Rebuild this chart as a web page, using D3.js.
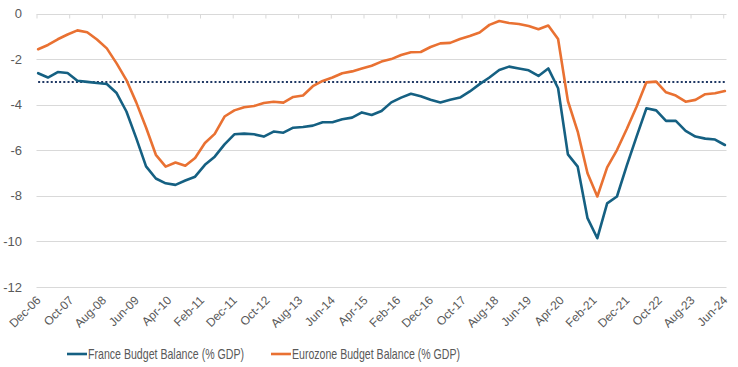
<!DOCTYPE html>
<html>
<head>
<meta charset="utf-8">
<script src="https://cdn.jsdelivr.net/npm/d3@7"></script>
<style>
  html, body { margin: 0; padding: 0; background: #fff; }
  svg { display: block; }
</style>
</head>
<body>
<svg id="chart" width="738" height="367"></svg>
<script>
// ---- DATA ----
// Quarterly observations, Dec-06 through Jun-24 (month offset from Dec-06)
const monthOffsets = d3.range(0, 211, 3);
const franceBalance = [
  -2.62, -2.81, -2.57, -2.61, -2.95, -3.00, -3.05, -3.09, -3.49, -4.30,
  -5.47, -6.71, -7.24, -7.45, -7.52, -7.33, -7.16, -6.64, -6.28, -5.74,
  -5.30, -5.27, -5.30, -5.40, -5.18, -5.23, -5.01, -4.98, -4.92, -4.77,
  -4.77, -4.64, -4.57, -4.34, -4.45, -4.28, -3.90, -3.69, -3.52, -3.63,
  -3.78, -3.90, -3.78, -3.69, -3.42, -3.10, -2.81, -2.48, -2.33, -2.41,
  -2.49, -2.74, -2.41, -3.28, -6.18, -6.72, -8.98, -9.86, -8.33, -8.03,
  -6.67, -5.40, -4.16, -4.25, -4.71, -4.71, -5.15, -5.40, -5.49, -5.53,
  -5.77
];
const eurozoneBalance = [
  -1.57, -1.38, -1.13, -0.92, -0.74, -0.82, -1.14, -1.53, -2.19, -2.92,
  -3.90, -5.00, -6.20, -6.72, -6.54, -6.68, -6.34, -5.68, -5.28, -4.52,
  -4.25, -4.11, -4.06, -3.93, -3.87, -3.91, -3.66, -3.60, -3.19, -2.96,
  -2.81, -2.62, -2.54, -2.41, -2.29, -2.11, -2.00, -1.82, -1.70, -1.69,
  -1.47, -1.31, -1.29, -1.12, -0.99, -0.83, -0.50, -0.33, -0.42, -0.46,
  -0.55, -0.69, -0.53, -1.12, -3.84, -5.18, -7.01, -8.03, -6.75, -5.99,
  -5.07, -4.09, -3.02, -2.99, -3.46, -3.60, -3.87, -3.79, -3.54, -3.50,
  -3.40
];
const thresholdValue = -3;
const tickMonths = d3.range(0, 211, 10);
const tickLabels = ["Dec-06","Oct-07","Aug-08","Jun-09","Apr-10","Feb-11","Dec-11","Oct-12",
  "Aug-13","Jun-14","Apr-15","Feb-16","Dec-16","Oct-17","Aug-18","Jun-19","Apr-20",
  "Feb-21","Dec-21","Oct-22","Aug-23","Jun-24"];
const yTicks = [0, -2, -4, -6, -8, -10, -12];
const seriesNames = ["France Budget Balance (% GDP)", "Eurozone Budget Balance (% GDP)"];
const seriesColors = ["#156082", "#E97132"];

// ---- CHART ----
const svg = d3.select("#chart");
const x = d3.scaleLinear().domain([0, 211]).range([36.5, 726.5]);
const y = d3.scaleLinear().domain([-12, 0]).range([287, 13.5]);
const axisFont = "'Liberation Sans', Arial, sans-serif";
const labelColor = "#595959";
const gridColor = "#d9d9d9";

// gridlines
svg.append("g").selectAll("line").data(yTicks).join("line")
  .attr("x1", x(0)).attr("x2", x(211))
  .attr("y1", d => Math.round(y(d)) + 0.5).attr("y2", d => Math.round(y(d)) + 0.5)
  .attr("stroke", gridColor).attr("stroke-width", 1);

// y labels
svg.append("g").selectAll("text").data(yTicks).join("text")
  .attr("x", 22).attr("y", d => y(d))
  .attr("dy", "0.35em")
  .attr("text-anchor", "end")
  .attr("font-family", axisFont).attr("font-size", 13)
  .attr("fill", labelColor)
  .text(d => d);

// x axis at 0 with ticks going downward
const xAxis = d3.axisBottom(x).tickValues(tickMonths).tickSize(4).tickFormat("");
const gx = svg.append("g").attr("transform", `translate(0,${Math.round(y(0)) + 0.5})`).call(xAxis);
gx.select(".domain").remove();
gx.selectAll(".tick line").attr("stroke", gridColor);

// x labels at bottom, rotated
svg.append("g").selectAll("text").data(tickMonths).join("text")
  .attr("transform", d => `translate(${x(d) + 5},${301}) rotate(-45)`)
  .attr("text-anchor", "end")
  .attr("font-family", axisFont).attr("font-size", 12)
  .attr("fill", labelColor)
  .text((d, i) => tickLabels[i]);

// threshold dotted line
svg.append("line")
  .attr("x1", x(monthOffsets[0] + 0.5)).attr("x2", x(monthOffsets[monthOffsets.length - 1] + 0.5))
  .attr("y1", y(thresholdValue)).attr("y2", y(thresholdValue))
  .attr("stroke", "#1F3864").attr("stroke-width", 2)
  .attr("stroke-dasharray", "2,2.2");

const line = d3.line().x((d, i) => x(monthOffsets[i] + 0.5)).y(d => y(d));
[franceBalance, eurozoneBalance].forEach((s, k) => {
  svg.append("path").datum(s)
    .attr("d", line)
    .attr("fill", "none")
    .attr("stroke", seriesColors[k])
    .attr("stroke-width", 2.6)
    .attr("stroke-linejoin", "round")
    .attr("stroke-linecap", "round");
});

// legend
const legendFont = "'Liberation Sans', Arial, sans-serif";
const legendItems = [{x: 67, i: 0, w: 156}, {x: 271, i: 1, w: 168}];
const lg = svg.append("g");
legendItems.forEach(it => {
  lg.append("line")
    .attr("x1", it.x).attr("x2", it.x + 20)
    .attr("y1", 354).attr("y2", 354)
    .attr("stroke", seriesColors[it.i]).attr("stroke-width", 2.6);
  lg.append("text")
    .attr("x", it.x + 21).attr("y", 354).attr("dy", "0.36em")
    .attr("font-family", legendFont).attr("font-size", 15)
    .attr("textLength", it.w).attr("lengthAdjust", "spacingAndGlyphs")
    .attr("fill", labelColor)
    .text(seriesNames[it.i]);
});
</script>
</body>
</html>
